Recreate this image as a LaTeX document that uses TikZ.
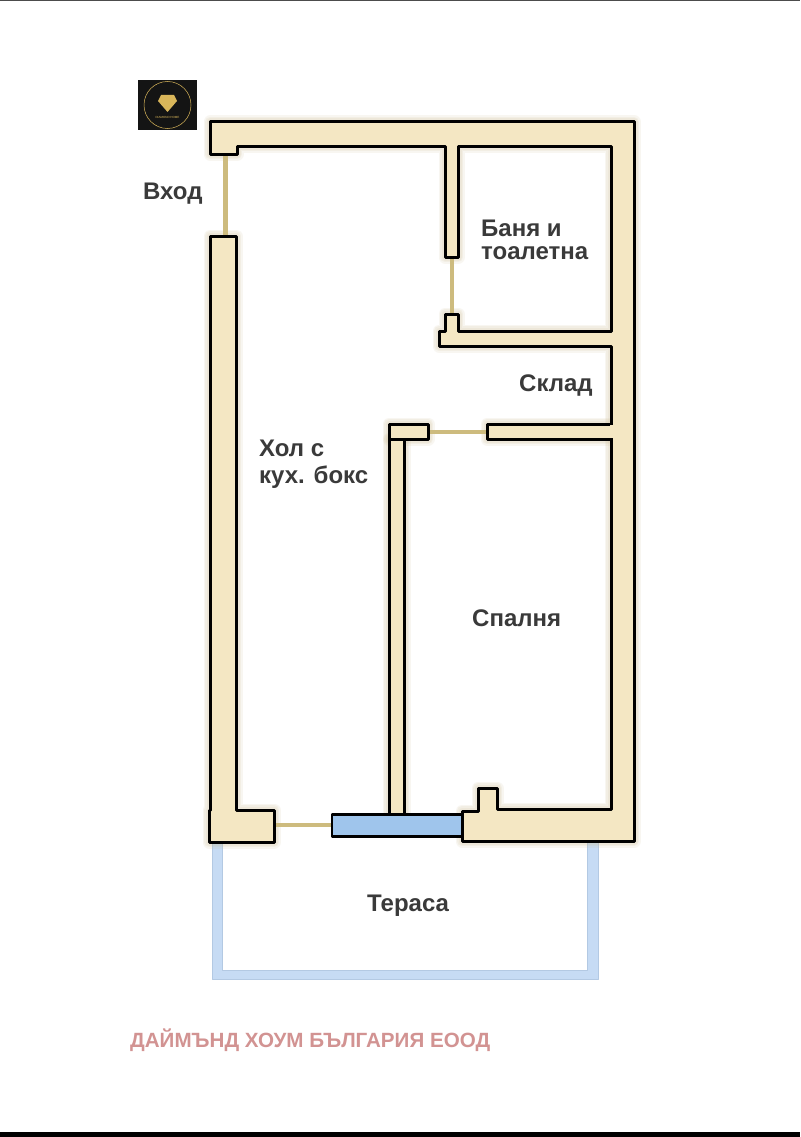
\documentclass[tikz,border=0pt]{standalone}
\usepackage{fontspec}
\setmainfont{Liberation Sans}
\definecolor{wallfill}{HTML}{F4E7C3}
\definecolor{glowc}{HTML}{CDBD94}
\definecolor{doorc}{HTML}{CDBB7E}
\definecolor{glassc}{HTML}{9FC5EC}
\definecolor{terracec}{HTML}{C6DBF4}
\definecolor{terraceedge}{HTML}{B3C9E3}
\definecolor{labelc}{HTML}{3A3A3A}
\definecolor{footerc}{HTML}{D29392}
\definecolor{goldc}{HTML}{D9B65A}
\definecolor{logoc}{HTML}{141414}
\tikzset{
  wall/.style={draw=black,fill=wallfill,line width=3pt,line join=round},
  glow/.style={draw=glowc,line join=round,line width=#1,opacity=.13},
  door/.style={draw=doorc,line width=4.5pt},
  room/.style={font=\fontsize{24}{28}\selectfont\bfseries,text=labelc,anchor=base west,inner sep=0pt},
}
\newcommand{\mainwall}{(210,122) -- (634,122) -- (634,841) -- (462,841) -- (462,811) -- (478,811) -- (478,788) -- (497,788) -- (497,809) -- (611,809) -- (611,346) -- (439,346) -- (439,331) -- (445,331) -- (445,314) -- (458,314) -- (458,331) -- (611,331) -- (611,146) -- (458,146) -- (458,257) -- (445,257) -- (445,146) -- (237,146) -- (237,154) -- (210,154) -- cycle}
\newcommand{\leftwall}{(210,236) -- (236,236) -- (236,810) -- (274,810) -- (274,842) -- (209,842) -- (209,810) -- (210,810) -- cycle}
\begin{document}
\begin{tikzpicture}[x=1pt,y=-1pt]
\useasboundingbox (0,0) rectangle (800,1137);
\fill[white] (0,0) rectangle (800,1137);
% page edges
\fill[black!70] (0,0) rectangle (800,1);
\fill[black] (0,1132) rectangle (800,1137);
% logo
\fill[logoc] (138,80) rectangle (197,130);
\draw[goldc,line width=.5pt] (167.5,105) circle (23.5);
\fill[goldc] (161,95) -- (174,95) -- (177,101) -- (167.5,112) -- (158,101) -- cycle;
\node (logotext) at (167.5,117.5) [font=\fontsize{3}{3}\selectfont,text=goldc,inner sep=0pt] {DIAMOND HOME};
% terrace
\draw[terraceedge,line width=.8pt,fill=terracec,line join=round] (212,842) -- (212,979) -- (598,979) -- (598,841) -- (587,841) -- (587,970) -- (222,970) -- (222,842) -- cycle;
% glow
\foreach \w in {13,10,7}{
  \draw[glow=\w pt] \mainwall;
  \draw[glow=\w pt] \leftwall;
  \draw[glow=\w pt] (389,424) rectangle (428,439);
  \draw[glow=\w pt] (389,439) rectangle (404,814);
  \draw[glow=\w pt] (487,424) rectangle (611,439);
}
% doors
\draw[door] (225.5,154) -- (225.5,236);
\draw[door] (452,257) -- (452,314);
\draw[door] (428,432) -- (487,432);
\draw[door] (274,825) -- (332,825);
% walls
\draw[wall] \mainwall;
\draw[wall] \leftwall;
\draw[wall] (389,439) rectangle (404,815);
\draw[wall] (389,424) rectangle (428,439);
\fill[wallfill] (487,425) rectangle (613,438);
\draw[black,line width=3pt,line join=round] (610,424) -- (487,424) -- (487,439) -- (610,439);
% window
\draw[black,fill=glassc,line width=2.6pt,line join=round] (332,814.5) rectangle (462,836.5);
% labels
\node[room] (entry) at (143,199) {Вход};
\node[room] (bath1) at (481,236) {Баня и};
\node[room] (bath2) at (481,259) {тоалетна};
\node[room] (store) at (519,391) {Склад};
\node[room] (hall1) at (259,456) {Хол с};
\node[room] (hall2) at (259,483) {кух. бокс};
\node[room] (bed) at (472,626) {Спалня};
\node[room] (terrace) at (367,911) {Тераса};
\node[anchor=base west,inner sep=0pt,text=footerc,font=\fontsize{20.6}{24}\selectfont\bfseries] (footer) at (130,1047) {ДАЙМЪНД ХОУМ БЪЛГАРИЯ ЕООД};
\end{tikzpicture}
\end{document}
